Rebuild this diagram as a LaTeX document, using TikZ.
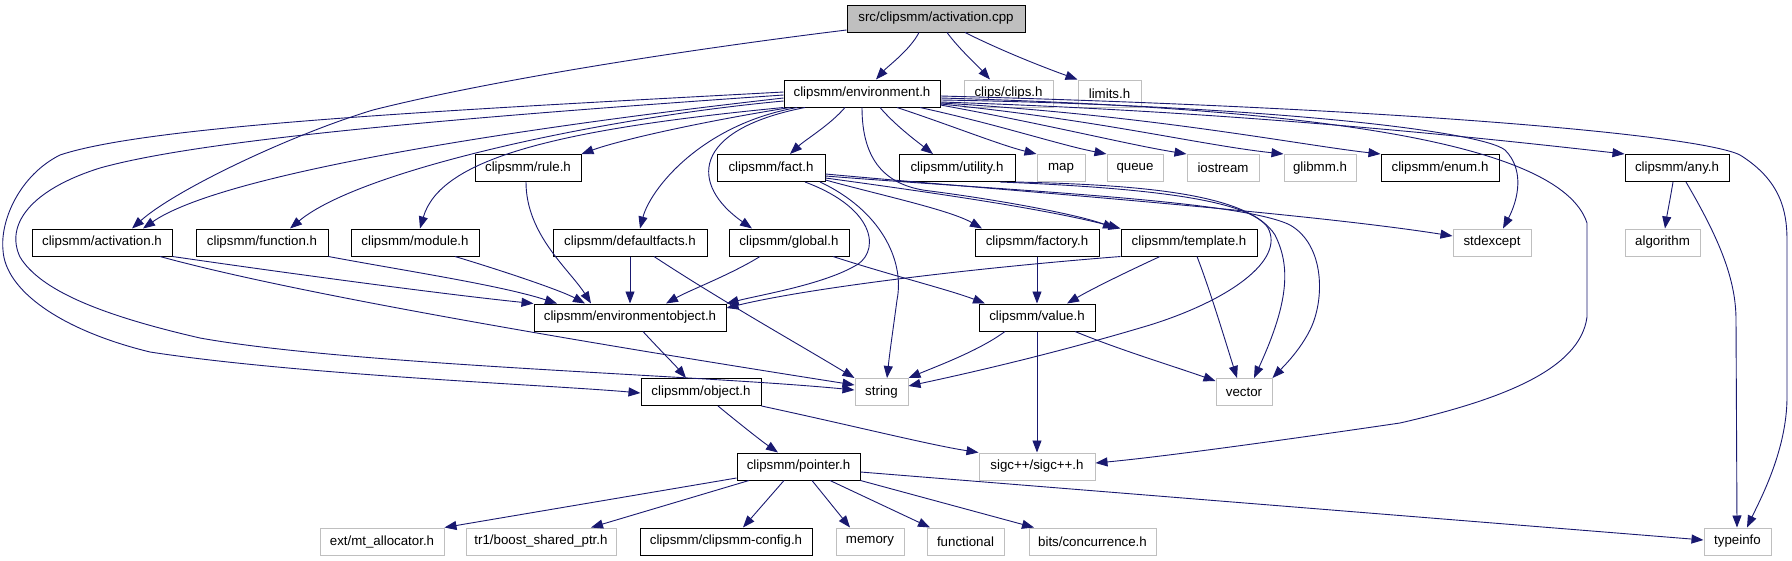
\documentclass[tikz,border=0pt]{standalone}
\usepackage{fontspec}
\setmainfont{Liberation Sans}
\usetikzlibrary{arrows.meta}
\definecolor{edgec}{HTML}{191970}
\definecolor{greyc}{HTML}{BFBFBF}
\begin{document}
\begin{tikzpicture}[x=1pt,y=-1pt,
 box/.style={draw=black,line width=1pt,minimum height=27pt,inner sep=0pt,font=\fontsize{13.3}{16}\selectfont,anchor=center},
 doc/.style={box},
 ext/.style={box,draw=greyc},
 src/.style={box,fill=greyc},
 e/.style={draw=edgec,line width=0.9pt,-{Triangle[length=12pt,width=9pt]}}]
\fill[white] (0,0) rectangle (1792,560);
\useasboundingbox (0,0) rectangle (1792,560);
% row 0
\node[src,minimum width=178pt] (cpp) at (936,18.5) {src/clipsmm/activation.cpp};
% row 1
\node[doc,minimum width=156pt] (env) at (862,93.5) {clipsmm/environment.h};
\node[ext,minimum width=89pt] (clips) at (1008.5,93.5) {clips/clips.h};
\node[ext,minimum width=63pt] (limits) at (1109.5,93.5) {limits.h};
% row 2
\node[doc,minimum width=106pt] (rule) at (528,168) {clipsmm/rule.h};
\node[doc,minimum width=108pt] (fact) at (771,168) {clipsmm/fact.h};
\node[doc,minimum width=116pt] (utility) at (957,168) {clipsmm/utility.h};
\node[ext,minimum width=48pt] (map) at (1061,168) {map};
\node[ext,minimum width=56pt] (queue) at (1135,168) {queue};
\node[ext,minimum width=72pt] (iostream) at (1223,168) {iostream};
\node[ext,minimum width=72pt] (glibmm) at (1320,168) {glibmm.h};
\node[doc,minimum width=118pt] (enum) at (1440,168) {clipsmm/enum.h};
\node[doc,minimum width=104pt] (any) at (1677,168) {clipsmm/any.h};
% row 3
\node[doc,minimum width=140pt] (actvh) at (102,242.5) {clipsmm/activation.h};
\node[doc,minimum width=132pt] (funch) at (262,242.5) {clipsmm/function.h};
\node[doc,minimum width=128pt] (modh) at (415,242.5) {clipsmm/module.h};
\node[doc,minimum width=154pt] (deff) at (630,242.5) {clipsmm/defaultfacts.h};
\node[doc,minimum width=120pt] (glob) at (789,242.5) {clipsmm/global.h};
\node[doc,minimum width=124pt] (factory) at (1037,242.5) {clipsmm/factory.h};
\node[doc,minimum width=136pt] (templ) at (1189,242.5) {clipsmm/template.h};
\node[ext,minimum width=78pt] (stdex) at (1492,242.5) {stdexcept};
\node[ext,minimum width=75pt] (algo) at (1662.5,242.5) {algorithm};
% row 4
\node[doc,minimum width=192pt] (envobj) at (630,317.5) {clipsmm/environmentobject.h};
\node[doc,minimum width=116pt] (value) at (1037,317.5) {clipsmm/value.h};
% row 5
\node[ext,minimum width=53pt] (string) at (881.5,392) {string};
\node[ext,minimum width=56pt] (vector) at (1244,392) {vector};
\node[doc,minimum width=120pt] (object) at (701,392) {clipsmm/object.h};
% row 6
\node[doc,minimum width=123pt] (pointer) at (798.5,466.5) {clipsmm/pointer.h};
\node[ext,minimum width=116pt] (sigc) at (1037,466.5) {sigc++/sigc++.h};
% row 7
\node[ext,minimum width=124pt] (mt) at (382,541.5) {ext/mt\_allocator.h};
\node[ext,minimum width=150pt] (boost) at (541,541.5) {tr1/boost\_shared\_ptr.h};
\node[doc,minimum width=172pt] (config) at (726,541.5) {clipsmm/clipsmm-config.h};
\node[ext,minimum width=68pt] (memory) at (870,541.5) {memory};
\node[ext,minimum width=77pt] (functional) at (965.5,541.5) {functional};
\node[ext,minimum width=127pt] (concur) at (1092.5,541.5) {bits/concurrence.h};
\node[ext,minimum width=67pt] (typeinfo) at (1737.5,541.5) {typeinfo};

% --- edges from activation.cpp
\draw[e] (cpp.south -| 919,0) .. controls (910,50) and (888,66) .. (env.north -| 876,0);
\draw[e] (cpp.south -| 947,0) .. controls (960,50) and (978,66) .. (clips.north -| 990,0);
\draw[e] (cpp.south -| 965,0) .. controls (1000,50) and (1040,66) .. (limits.north west);
\draw[e] (cpp.west |- 0,30) .. controls (700,48) and (500,78) .. (373,110) .. controls (290,135) and (175,190) .. (actvh.north -| 132,0);

% --- edges from environment.h (left / down)
\draw[e] (env.west |- 0,98) .. controls (500,130) and (220,175) .. (actvh.north -| 143,0);
\draw[e] (env.west |- 0,101) .. controls (600,118) and (360,170) .. (funch.north -| 290,0);
\draw[e] (env.south west) .. controls (550,130) and (440,160) .. (modh.north -| 420,0);
\draw[e] (env.south -| 790,0) .. controls (700,122) and (620,140) .. (rule.north east);
\draw[e] (env.south -| 797,0) .. controls (700,125) and (650,190) .. (deff.north -| 640,0);
\draw[e] (env.south -| 805,0) .. controls (690,130) and (690,185) .. (glob.north -| 752,0);
\draw[e] (env.south -| 845,0) .. controls (830,125) and (805,140) .. (fact.north -| 790,0);
\draw[e] (env.south -| 880,0) .. controls (895,125) and (915,140) .. (utility.north -| 933,0);
\draw[e] (env.south -| 862,0) .. controls (862,160) and (885,186) .. (930,191) .. controls (1000,200) and (1080,215) .. (templ.north -| 1115,0);
\draw[e] (env.west |- 0,92) .. controls (450,110) and (150,125) .. (60,155) .. controls (20,175) and (0,220) .. (3,250) .. controls (5,290) and (60,330) .. (150,352) .. controls (300,375) and (550,385) .. (object.west |- 0,393);
\draw[e] (env.west |- 0,95) .. controls (450,118) and (200,140) .. (100,168) .. controls (30,190) and (5,225) .. (20,257) .. controls (40,290) and (100,315) .. (200,338) .. controls (350,365) and (700,375) .. (string.west |- 0,390);

% --- edges from environment.h (right)
\draw[e] (env.south -| 897,0) .. controls (950,125) and (1000,145) .. (map.north west);
\draw[e] (env.south -| 920,0) .. controls (1000,125) and (1060,145) .. (queue.north west);
\draw[e] (env.east |- 0,105) .. controls (1050,125) and (1130,145) .. (iostream.north west);
\draw[e] (env.east |- 0,104) .. controls (1100,120) and (1200,145) .. (glibmm.north west);
\draw[e] (env.east |- 0,103) .. controls (1150,115) and (1300,145) .. (enum.north west);
\draw[e] (env.east |- 0,102) .. controls (1250,112) and (1500,140) .. (any.north west);
\draw[e] (env.east |- 0,100) .. controls (1250,105) and (1480,130) .. (1505,150) .. controls (1525,170) and (1518,200) .. (stdex.north -| 1503,0);
\draw[e] (env.east |- 0,98) .. controls (1300,108) and (1560,140) .. (1587,223) -- (1587,317) .. controls (1580,370) and (1500,400) .. (1400,423) .. controls (1250,445) and (1150,458) .. (sigc.east |- 0,463);
\draw[e] (env.east |- 0,96) .. controls (1400,108) and (1700,135) .. (1740,155) .. controls (1780,180) and (1787,210) .. (1787,240) -- (1787,397) .. controls (1787,450) and (1760,500) .. (typeinfo.north -| 1747,0);

% --- row 3 to environmentobject / string
\draw[e] (actvh.south east) .. controls (300,275) and (450,295) .. (envobj.north west);
\draw[e] (actvh.south -| 160,0) .. controls (300,295) and (600,345) .. (string.west |- 0,385);
\draw[e] (funch.south east) .. controls (400,270) and (500,285) .. (envobj.north -| 557,0);
\draw[e] (modh.south -| 455,0) .. controls (500,270) and (560,290) .. (envobj.north -| 585,0);
\draw[e] (rule.south -| 526,0) .. controls (526,235) and (570,270) .. (envobj.north -| 591,0);
\draw[e] (deff.south -| 630,0) -- (envobj.north -| 630,0);
\draw[e] (deff.south -| 654,0) .. controls (720,300) and (800,345) .. (string.north west);
\draw[e] (glob.south -| 760,0) .. controls (730,275) and (690,290) .. (envobj.north -| 666,0);
\draw[e] (glob.south -| 833,0) .. controls (890,275) and (950,290) .. (value.north -| 985,0);

% --- fact.h
\draw[e] (fact.south -| 805,0) .. controls (880,210) and (880,255) .. (853,267) .. controls (820,285) and (760,295) .. (envobj.north east);
\draw[e] (fact.south -| 820,0) .. controls (880,210) and (905,260) .. (897,300) .. controls (893,330) and (890,350) .. (string.north -| 887,0);
\draw[e] (fact.east |- 0,180) .. controls (880,195) and (950,210) .. (factory.north -| 982,0);
\draw[e] (fact.east |- 0,178) .. controls (950,195) and (1050,210) .. (templ.north west);
\draw[e] (fact.east |- 0,176) .. controls (1000,190) and (1240,200) .. (1290,225) .. controls (1325,245) and (1325,300) .. (1310,330) .. controls (1300,350) and (1285,365) .. (vector.north east);
\draw[e] (fact.east |- 0,174) .. controls (1000,190) and (1300,212) .. (stdex.west |- 0,236);

% --- utility.h
\draw[e] (utility.south east) .. controls (1150,185) and (1250,195) .. (1275,235) .. controls (1290,265) and (1290,300) .. (vector.north -| 1254,0);
\draw[e] (utility.south -| 1000,0) .. controls (1150,188) and (1250,200) .. (1268,228) .. controls (1285,260) and (1230,300) .. (1150,325) .. controls (1050,355) and (960,375) .. (string.east |- 0,386);

% --- factory / template / value
\draw[e] (factory.south) -- (value.north);
\draw[e] (templ.south west) .. controls (950,270) and (800,290) .. (envobj.east |- 0,308);
\draw[e] (templ.south -| 1160,0) .. controls (1120,275) and (1090,290) .. (value.north -| 1067,0);
\draw[e] (templ.south -| 1197,0) .. controls (1210,290) and (1225,340) .. (vector.north -| 1237,0);
\draw[e] (value.south -| 1005,0) .. controls (980,350) and (940,365) .. (string.north east);
\draw[e] (value.south -| 1075,0) .. controls (1120,350) and (1170,365) .. (vector.west |- 0,381);
\draw[e] (value.south) -- (sigc.north);

% --- environmentobject / object
\draw[e] (envobj.south -| 643,0) .. controls (660,350) and (675,365) .. (object.north -| 686,0);
\draw[e] (object.south -| 718,0) .. controls (735,420) and (760,440) .. (pointer.north -| 778,0);
\draw[e] (object.south east) .. controls (850,425) and (930,445) .. (sigc.north west);

% --- pointer.h
\draw[e] (pointer.west |- 0,478) -- (mt.north east);
\draw[e] (pointer.south -| 749,0) -- (boost.north -| 591,0);
\draw[e] (pointer.south -| 784,0) -- (config.north -| 743,0);
\draw[e] (pointer.south -| 812,0) -- (memory.north -| 850,0);
\draw[e] (pointer.south -| 830,0) -- (functional.north -| 930,0);
\draw[e] (pointer.south east) -- (concur.north -| 1034,0);
\draw[e] (pointer.east |- 0,472) -- (typeinfo.west |- 0,540);

% --- any.h
\draw[e] (any.south -| 1673,0) .. controls (1670,200) and (1667,215) .. (algo.north -| 1665,0);
\draw[e] (any.south -| 1686,0) .. controls (1720,240) and (1736,280) .. (1736,320) -- (typeinfo.north -| 1737,0);
\end{tikzpicture}
\end{document}
